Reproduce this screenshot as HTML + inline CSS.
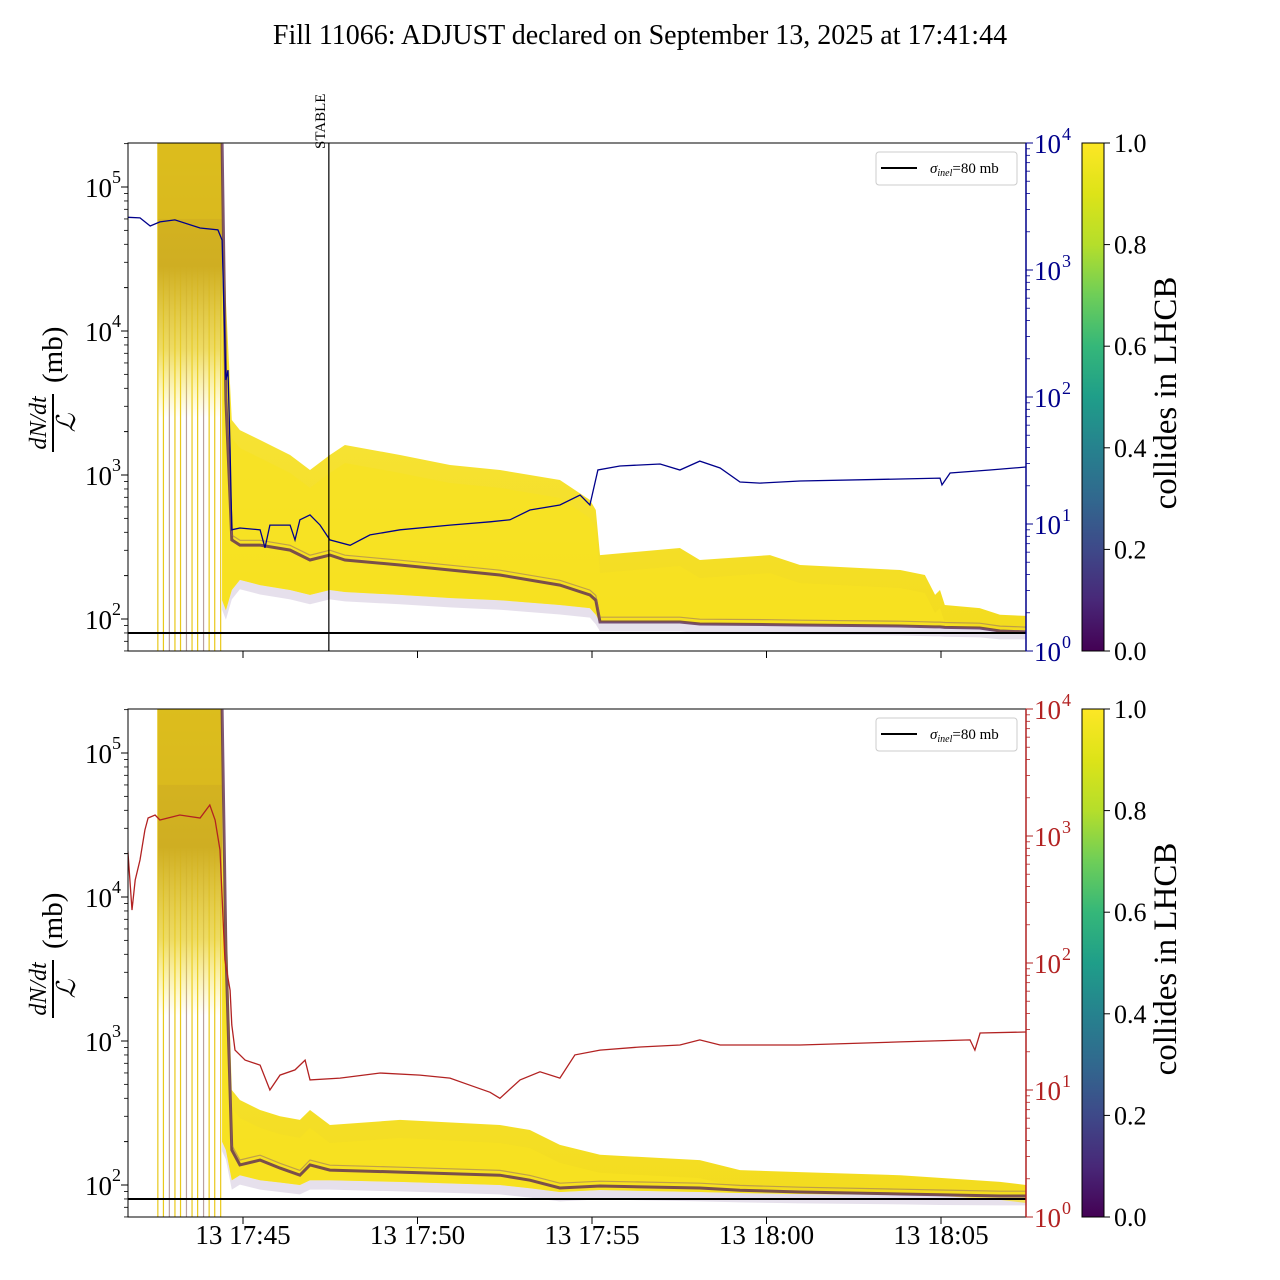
<!DOCTYPE html>
<html><head><meta charset="utf-8"><style>
html,body{margin:0;padding:0;background:#fff;}
svg{display:block;font-family:"Liberation Serif","DejaVu Serif",serif;}
</style></head><body>
<svg id="fig" width="1280" height="1280" viewBox="0 0 1280 1280" xmlns="http://www.w3.org/2000/svg">
<defs>
<linearGradient id="vir" x1="0" y1="1" x2="0" y2="0">
<stop offset="0" stop-color="#440154"/><stop offset="0.1" stop-color="#482878"/><stop offset="0.2" stop-color="#3e4989"/><stop offset="0.3" stop-color="#31688e"/><stop offset="0.4" stop-color="#26828e"/><stop offset="0.5" stop-color="#1f9e89"/><stop offset="0.6" stop-color="#35b779"/><stop offset="0.7" stop-color="#6ece58"/><stop offset="0.8" stop-color="#b5de2b"/><stop offset="0.9" stop-color="#dde318"/><stop offset="1" stop-color="#fde725"/>
</linearGradient>
<linearGradient id="spikeFade" x1="0" y1="0" x2="0" y2="1">
<stop offset="0" stop-color="#d9b81c"/><stop offset="0.45" stop-color="#cfae22"/><stop offset="0.75" stop-color="#e8cf30" stop-opacity="0.75"/><stop offset="1" stop-color="#fde725" stop-opacity="0"/>
</linearGradient>
<linearGradient id="bandFade" x1="0" y1="0" x2="0" y2="1">
<stop offset="0" stop-color="#fde725" stop-opacity="0.3"/><stop offset="0.3" stop-color="#f7e222" stop-opacity="0.85"/><stop offset="1" stop-color="#f3dc1e"/>
</linearGradient>
<clipPath id="clipTop"><rect x="128" y="143" width="898" height="508"/></clipPath>
<clipPath id="clipBot"><rect x="128" y="709" width="898" height="508"/></clipPath>
</defs>
<text x="640" y="44" font-size="28" text-anchor="middle">Fill 11066: ADJUST declared on September 13, 2025 at 17:41:44</text>
<g id="layer"></g>
</svg>
<script>
// ---- data (time in minutes after 17:40) ----
const xTickTimes = [5, 10, 15, 20, 25];
const xTickLabels = ["13 17:45", "13 17:50", "13 17:55", "13 18:00", "13 18:05"];
const yTickExp = [2, 3, 4, 5];
const rTickExp = [0, 1, 2, 3, 4];
const cbTicks = [0.0, 0.2, 0.4, 0.6, 0.8, 1.0];
const sigmaInel = 80;
const stableTime = 7.46;
const spikeTimes = [2.56, 2.72, 2.89, 3.05, 3.21, 3.38, 3.54, 3.70, 3.87, 4.03, 4.19, 4.36];
const spikeColors = ["#e8c81a","#e8c81a","#b9a0a0","#e8c81a","#e8c81a","#b9a0a0","#e8c81a","#e8c81a","#b9a0a0","#e8c81a","#e8c81a","#e8c81a"];

const blueT = [1.70,2.05,2.34,2.62,3.05,3.77,4.28,4.40,4.51,4.57,4.63,4.68,4.91,5.49,5.63,5.77,6.35,6.49,6.63,6.92,7.21,7.49,8.07,8.64,9.50,10.93,12.08,12.65,13.22,14.08,14.66,14.94,15.17,15.80,16.95,17.52,18.09,18.67,19.24,19.81,20.96,23.83,24.97,25.03,25.26,26.40,27.44];
const blueV = [2600,2570,2220,2390,2480,2140,2070,1720,136,163,38,9.0,9.3,9.0,6.5,9.8,9.8,7.5,10.8,11.8,9.8,7.5,6.8,8.2,9.0,9.8,10.4,10.8,12.9,14.1,16.9,14.1,26.6,28.6,29.7,26.6,31.3,27.6,21.4,21.0,21.8,22.6,23.0,20.3,25.2,26.6,28.1];

const redT = [1.70,1.82,1.91,2.05,2.19,2.28,2.48,2.62,3.19,3.77,4.05,4.20,4.34,4.48,4.63,4.68,4.77,5.06,5.49,5.77,6.06,6.49,6.78,6.92,7.78,8.93,10.07,10.93,11.50,12.08,12.36,12.94,13.51,14.08,14.51,15.23,16.38,17.52,18.09,18.67,19.81,20.96,23.83,25.83,25.97,26.12,27.44];
const redV = [776,261,450,647,1115,1386,1463,1337,1463,1386,1754,1337,776,106,61,32.5,20.6,17.2,15.7,10,13.1,14.4,17.2,12.0,12.4,13.6,13.1,12.4,10.9,9.6,8.6,12.0,13.9,12.4,18.9,20.6,21.8,22.6,24.8,22.6,22.6,22.6,23.9,24.8,20.6,28.1,28.6];

const topT    = [4.40,4.51,4.68,4.91,5.49,6.35,6.92,7.49,7.92,9.50,10.93,12.36,14.08,14.94,15.11,15.23,17.52,18.09,20.10,20.96,23.83,24.54,24.83,24.97,25.11,26.11,26.69,27.44];
const topHigh = [200000,16400,2410,2050,1750,1377,1084,1377,1616,1377,1173,1084,923,670,571,278,311,257,278,237,219,202,147,159,125,119,107,105];
const topLow  = [135,115,159,187,172,159,147,159,154,147,140,135,125,119,107,95.3,95.3,92.3,91.5,90.9,89.4,88.5,88.1,88.1,87.5,86.6,83.9,83.9];
const topMed  = [200000,3318,354,326,326,301,257,278,257,237,219,202,172,147,135,95.3,95.3,92.3,91.5,90.9,89.4,88.5,88.1,88.1,87.5,86.6,82.6,81.3];

const botT    = [4.40,4.51,4.68,4.91,5.49,6.06,6.63,6.92,7.49,9.50,12.36,13.22,14.08,15.23,18.09,19.24,20.96,23.83,24.97,26.69,27.44];
const botHigh = [200000,9530,457,389,332,300,283,332,261,283,261,241,190,162,149,127,123,117,112,105,100];
const botLow  = [200,175,108,117,108,104,100,108,108,105,100,95,89.4,92.3,89.4,88,86.6,85.3,84.5,83.9,83.9];
const botMed  = [200000,4285,175,138,149,131,117,138,127,123,117,108,95.3,98.4,95.3,92,89.4,86.6,85.5,83.9,83.9];

// ---- helpers ----
const NS = "http://www.w3.org/2000/svg";
const layer = document.getElementById("layer");
function el(tag, attrs, parent, txt){
  const e = document.createElementNS(NS, tag);
  for (const k in attrs) e.setAttribute(k, attrs[k]);
  if (txt !== undefined) e.textContent = txt;
  (parent || layer).appendChild(e);
  return e;
}
const X0 = 128, X1 = 1026, PH = 508;
function xs(t){ return 243 + (t - 5) * 34.9; }
function ylFor(y0){ return v => y0 + 44 + (5 - Math.log10(v)) * 144; }
function yrFor(y0){ return v => y0 + (4 - Math.log10(v)) * 127; }
function linePath(T, V, f){ return T.map((t,i)=>(i?"L":"M")+xs(t).toFixed(1)+","+f(V[i]).toFixed(1)).join(""); }
function bandPath(T, H, L, f){
  let d = T.map((t,i)=>(i?"L":"M")+xs(t).toFixed(1)+","+f(H[i]).toFixed(1)).join("");
  for (let i=T.length-1;i>=0;i--) d += "L"+xs(T[i]).toFixed(1)+","+f(L[i]).toFixed(1);
  return d+"Z";
}

function panel(y0, rightColor, rT, rV, bandT, H, L, M, clipId, isBottom, name){
  const g = el("g", {}, layer);
  
  
  const yl = ylFor(y0), yr = yrFor(y0);
  const cg = el("g", {"clip-path": "url(#"+clipId+")"}, g);
  spikeTimes.forEach((t,i)=>{
    const ln = el("line", {x1: xs(t), x2: xs(t), y1: y0, y2: y0+PH, stroke: spikeColors[i], "stroke-width": 1.2}, cg);
    
    
  });
  const sx = xs(spikeTimes[0]), sw = xs(4.40)-xs(spikeTimes[0]);
  const sb = el("rect", {x: sx, y: y0, width: sw, height: yl(isBottom?1500:2500)-y0, fill: "url(#spikeFade)"}, cg);
  
  
  el("rect", {x: sx, y: y0, width: sw, height: yl(60000)-y0, fill: "#e0c11e", opacity: 0.5}, cg);
  const fp = el("path", {d: bandPath(bandT, L, L.map(v=>v*0.86), yl), fill: "#b8a6c8", opacity: 0.35}, cg);
  
  
  const yb = el("path", {d: bandPath(bandT, H, L, yl), fill: "url(#bandFade)"}, cg);
  
  
  const yb2 = el("path", {d: bandPath(bandT, H.map(v=>v*0.75), L, yl), fill: "#f8e321", opacity: 0.7}, cg);
  
  
  const pm = el("path", {d: linePath(bandT, M, yl), fill: "none", stroke: "#5a2a55", "stroke-width": 3, opacity: 0.8}, cg);
  
  
  const pm2 = el("path", {d: linePath(bandT, M.map(v=>v*1.08), yl), fill: "none", stroke: "#8a6070", "stroke-width": 1.2, opacity: 0.5}, cg);
  
  
  const sl = el("line", {x1: X0, x2: X1, y1: yl(sigmaInel), y2: yl(sigmaInel), stroke: "#000", "stroke-width": 2}, cg);
  
  
  const rs = el("path", {d: linePath(rT, rV, yr), fill: "none", stroke: rightColor, "stroke-width": 1.3}, cg);
  
  
  if (!isBottom){
    const st = el("line", {x1: xs(stableTime), x2: xs(stableTime), y1: y0, y2: y0+PH, stroke: "#000", "stroke-width": 1.2}, g);
    
    
    const stt = el("text", {x: 0, y: 0, "font-size": 15, transform: "translate("+(xs(stableTime)-4)+","+(y0+6)+") rotate(-90)"}, g, "STABLE");
    
    
  }
  const fr = el("rect", {x: X0, y: y0, width: X1-X0, height: PH, fill: "none", stroke: "#000", "stroke-width": 1}, g);
  
  
  el("line", {x1: X1, x2: X1, y1: y0, y2: y0+PH, stroke: rightColor, "stroke-width": 1.5}, g);
  const ly = el("g", {}, g);
  
  
  yTickExp.forEach(e=>{
    const y = yl(Math.pow(10,e));
    el("line", {x1: X0-7, x2: X0, y1: y, y2: y, stroke: "#000"}, ly);
    el("text", {x: X0-16, y: y+10, "font-size": 27, "text-anchor": "end"}, ly, "10");
    el("text", {x: X0-16, y: y-4, "font-size": 18}, ly, String(e));
    for (let m=2;m<=9;m++){
      const ym = yl(m*Math.pow(10,e-1));
      if (ym>=y0 && ym<=y0+PH) el("line", {x1: X0-4, x2: X0, y1: ym, y2: ym, stroke: "#000", "stroke-width": 0.8}, ly);
    }
    const ym = yl(2*Math.pow(10,e));
    if (ym>=y0) el("line", {x1: X0-4, x2: X0, y1: ym, y2: ym, stroke: "#000", "stroke-width": 0.8}, ly);
  });
  const ry = el("g", {}, g);
  
  
  rTickExp.forEach(e=>{
    const y = yr(Math.pow(10,e));
    el("line", {x1: X1, x2: X1+7, y1: y, y2: y, stroke: rightColor}, ry);
    el("text", {x: X1+8, y: y+10, "font-size": 27, fill: rightColor}, ry, "10");
    el("text", {x: X1+36, y: y-3, "font-size": 18, fill: rightColor}, ry, String(e));
    if (e<4) for (let m=2;m<=9;m++){
      const ym = yr(m*Math.pow(10,e));
      el("line", {x1: X1, x2: X1+4, y1: ym, y2: ym, stroke: rightColor, "stroke-width": 0.8}, ry);
    }
  });
  const xa = el("g", {}, g);
  
  
  xTickTimes.forEach((t,i)=>{
    el("line", {x1: xs(t), x2: xs(t), y1: y0+PH, y2: y0+PH+7, stroke: "#000"}, xa);
    if (isBottom){
      const tl = el("text", {x: xs(t), y: y0+PH+27, "font-size": 27, "text-anchor": "middle"}, xa, xTickLabels[i]);
      
      
    }
  });
  const lab = el("g", {transform: "translate(53,"+(y0+280)+") rotate(-90)"}, g);
  
  
  el("text", {x: 0, y: -7, "font-size": 24, "font-style": "italic", "text-anchor": "middle"}, lab, "dN/dt");
  el("line", {x1: -29, x2: 29, y1: 0, y2: 0, stroke: "#000", "stroke-width": 2}, lab);
  el("text", {x: 0, y: 22, "font-size": 26, "font-style": "italic", "font-family": "DejaVu Serif, serif", "text-anchor": "middle"}, lab, "ℒ");
  el("text", {x: 40, y: 9, "font-size": 29}, lab, "(mb)");
  const lg = el("g", {}, g);
  
  
  el("rect", {x: 876, y: y0+9, width: 141, height: 33, rx: 3, fill: "#fff", stroke: "#ccc", "fill-opacity": 0.85}, lg);
  el("line", {x1: 881, x2: 917, y1: y0+25, y2: y0+25, stroke: "#000", "stroke-width": 2}, lg);
  const lt = el("text", {x: 930, y: y0+30, "font-size": 15}, lg);
  el("tspan", {"font-style": "italic"}, lt, "σ");
  el("tspan", {"font-style": "italic", "font-size": 10, dy: 3}, lt, "inel");
  el("tspan", {dy: -3}, lt, "=80 mb");
  const cb = el("g", {}, g);
  
  
  el("rect", {x: 1082, y: y0, width: 22, height: PH, fill: "url(#vir)", stroke: "#000", "stroke-width": 1}, cb);
  cbTicks.forEach(v=>{
    const y = y0 + PH - v*PH;
    el("line", {x1: 1104, x2: 1110, y1: y, y2: y, stroke: "#000"}, cb);
    el("text", {x: 1114, y: y+9, "font-size": 26}, cb, v.toFixed(1));
  });
  const ct = el("text", {x: 0, y: 0, "font-size": 33, "text-anchor": "middle", transform: "translate(1176,"+(y0+PH/2-4)+") rotate(-90)"}, cb, "collides in LHCB");
  
  
}
panel(143, "#00008b", blueT, blueV, topT, topHigh, topLow, topMed, "clipTop", false, "top");
panel(709, "#b22222", redT, redV, botT, botHigh, botLow, botMed, "clipBot", true, "bottom");
</script>
</body></html>
